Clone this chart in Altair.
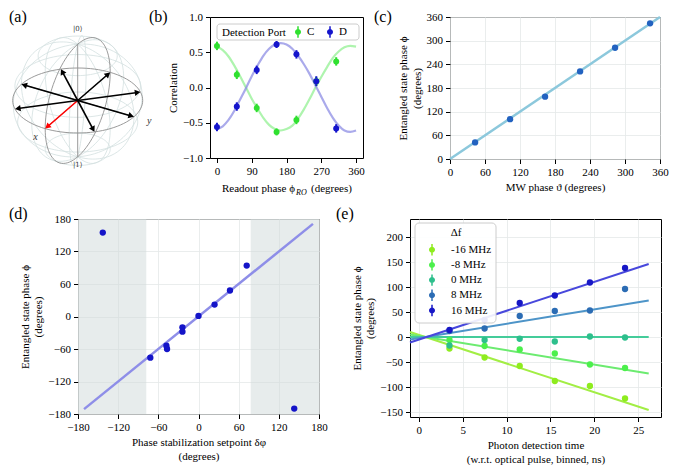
import altair as alt
import numpy as np
import pandas as pd

SERIF = "'Liberation Serif', 'Times New Roman', serif"

# ===================== DATA =====================
# (a) Bloch sphere: azimuths of the eight equatorial state vectors (first one red)
state_azimuth_deg = [0, 45, 90, 135, 180, 225, 270, 315]
state_is_red = [True, False, False, False, False, False, False, False]
wire_meridians_deg = [0, 37.5, 75, 112.5, 150, 180, -142.5, -105, -67.5, -30]
wire_colatitudes_deg = [37.5, 75, 112.5, 150]
view_azim_deg = -60
view_elev_deg = 30

# (b) correlation vs readout phase
ports = ["C", "D"]
port_colors = ["#2fe02f", "#1414cc"]
port_fit_colors = ["#8cf08c", "#8686e2"]
ro_phase = [0, 51.4, 102.9, 154.3, 205.7, 257.1, 308.6]
corr_C = [0.59, 0.18, -0.29, -0.63, -0.46, 0.09, 0.37]
corr_D = [-0.56, -0.27, 0.25, 0.61, 0.47, 0.09, -0.58]
corr_C_err = [0.06, 0.06, 0.06, 0.05, 0.06, 0.06, 0.06]
corr_D_err = [0.06, 0.06, 0.06, 0.05, 0.06, 0.07, 0.06]
fit_phase = [0, 15, 30, 45, 60, 75, 90, 105, 120, 135, 150, 165, 180,
             195, 210, 225, 240, 255, 270, 285, 300, 315, 330, 345, 360]
fit_C = [0.58, 0.53, 0.44, 0.31, 0.16, 0.00, -0.16, -0.30, -0.43, -0.53, -0.59, -0.61, -0.59,
         -0.54, -0.44, -0.31, -0.16, 0.00, 0.15, 0.29, 0.42, 0.51, 0.57, 0.59, 0.58]
fit_D = [-0.59, -0.55, -0.46, -0.33, -0.17, -0.01, 0.16, 0.31, 0.45, 0.55, 0.61, 0.63, 0.61,
         0.55, 0.45, 0.33, 0.19, 0.03, -0.13, -0.29, -0.43, -0.54, -0.61, -0.63, -0.61]

# (c) entangled phase vs MW phase
mw_phase = [43, 103, 163, 223, 283, 343]
mw_ent_phase = [42, 101, 158, 222, 282, 344]
mw_fit_x = [0, 360]
mw_fit_y = [0, 360]

# (d) entangled phase vs stabilization setpoint
setpoint = [-143, -72, -48, -47, -24, -24, 0, 24, 47, 72, 143]
setpoint_phase = [155, -76, -54, -60, -20, -28, 1, 22, 48, 94, -170]
setpoint_fit_x = [-171, 171]
setpoint_fit_y = [-171, 171]
shade_lo = [-180, 78]
shade_hi = [-78, 180]

# (e) entangled phase vs photon detection time
det_time = [3.5, 7.5, 11.5, 15.5, 19.5, 23.5]
detuning = ["-16 MHz", "-8 MHz", "0 MHz", "8 MHz", "16 MHz"]
phase_m16 = [-23, -41, -58, -88, -98, -123]
phase_m8 = [-6, -18, -25, -33, -55, -62]
phase_0 = [-17, -6, -3.5, -9, 1, -1]
phase_p8 = [12, 17, 42, 52, 53, 96]
phase_p16 = [14, 34, 68, 83, 109, 138]
fit_time = [-1, 26.2]
fit_m16 = [10, -146]
fit_m8 = [5, -73]
fit_0 = [0, 0]
fit_p8 = [-5, 73]
fit_p16 = [-11, 146]
point_colors = ["#8eec1e", "#4cf04c", "#2dbf8c", "#2b6cb4", "#1717c6"]
line_colors = ["#a2ee44", "#6ceb70", "#44cc9a", "#4d94c8", "#4848dc"]

# ===================== HELPERS =====================
SYM = ("M -1 0 A 1 1 0 1 1 1 0 A 1 1 0 1 1 -1 0 Z "
       "M -0.25 -1.9 L 0.25 -1.9 L 0.25 1.9 L -0.25 1.9 Z")
ONE = pd.DataFrame({"t": ["x"]})
IND = dict(x="independent", y="independent", color="independent", stroke="independent")


def panel_label(txt, x, y):
    return alt.Chart(pd.DataFrame({"t": [txt]})).mark_text(
        align="left", baseline="top", font=SERIF, fontSize=16, color="black"
    ).encode(text="t:N", x=alt.value(x), y=alt.value(y))


def spacer(w, h):
    return alt.Chart(ONE).mark_point(opacity=0, size=1).encode(
        x=alt.value(w / 2), y=alt.value(h / 2)
    ).properties(width=w, height=h, view=alt.ViewBackground(stroke="transparent"))


def axis(title, values, fmt="d", grid=False):
    return alt.Axis(title=title, values=values, format=fmt, grid=grid)


def legend_box(x, y, w, h, radius):
    return alt.Chart(ONE).mark_rect(fill="white", fillOpacity=0.9, stroke="#cccccc",
                                    strokeWidth=1, cornerRadius=radius).encode(
        x=alt.value(x), x2=alt.value(x + w), y=alt.value(y), y2=alt.value(y + h))


def legend_entries(labels, colors, xs, ys, label_dx):
    df = pd.DataFrame({"lab": labels, "col": colors, "px": xs, "py": ys,
                       "lx": [v + label_dx for v in xs]})
    sym = alt.Chart(df).mark_point(shape=SYM, filled=True, size=36, opacity=1, strokeWidth=0).encode(
        x=alt.X("px:Q", scale=None), y=alt.Y("py:Q", scale=None), color=alt.Color("col:N", scale=None))
    txt = alt.Chart(df).mark_text(align="left", baseline="middle", font=SERIF, fontSize=11,
                                  color="black").encode(
        x=alt.X("lx:Q", scale=None), y=alt.Y("py:Q", scale=None), text="lab:N")
    return [sym, txt]


def text_at(s, x, y, align="left", baseline="middle", size=11, style="normal"):
    return alt.Chart(ONE).mark_text(text=s, align=align, baseline=baseline, font=SERIF,
                                    fontSize=size, fontStyle=style, color="black").encode(
        x=alt.value(x), y=alt.value(y))


# ===================== (a) BLOCH SPHERE =====================
az = np.radians(view_azim_deg)
el = np.radians(view_elev_deg)


def project(X, Y, Z):
    X = np.asarray(X, float)
    Y = np.asarray(Y, float)
    Z = np.asarray(Z, float)
    right = -np.sin(az) * X + np.cos(az) * Y
    up = -np.sin(el) * np.cos(az) * X - np.sin(el) * np.sin(az) * Y + np.cos(el) * Z
    return right, up


wire_rows = []
tt = np.radians(np.linspace(0, 180, 49))
for i, u in enumerate(np.radians(wire_meridians_deg)):
    r, up = project(np.cos(u) * np.sin(tt), np.sin(u) * np.sin(tt), np.cos(tt))
    for k in range(len(tt)):
        wire_rows.append({"id": "m%d" % i, "k": k, "x": r[k], "y": up[k]})
ss = np.radians(np.linspace(-180, 180, 97))
for j, v in enumerate(np.radians(wire_colatitudes_deg)):
    r, up = project(np.cos(ss) * np.sin(v), np.sin(ss) * np.sin(v), np.full_like(ss, np.cos(v)))
    for k in range(len(ss)):
        wire_rows.append({"id": "l%d" % j, "k": k, "x": r[k], "y": up[k]})
wire_df = pd.DataFrame(wire_rows)

frame_rows = []
r, up = project(np.cos(ss), np.sin(ss), np.zeros_like(ss))
for k in range(len(ss)):
    frame_rows.append({"id": "eq", "k": k, "x": r[k], "y": up[k]})
r, up = project(np.zeros_like(ss), np.cos(ss), np.sin(ss))
for k in range(len(ss)):
    frame_rows.append({"id": "mer", "k": k, "x": r[k], "y": up[k]})
for name, (P, Q) in {"ax": ([-1, 1], [0, 0]), "ay": ([0, 0], [-1, 1])}.items():
    r, up = project(P, Q, [0, 0])
    for k in range(2):
        frame_rows.append({"id": name, "k": k, "x": r[k], "y": up[k]})
r, up = project([0, 0], [0, 0], [-1, 1])
for k in range(2):
    frame_rows.append({"id": "az", "k": k, "x": r[k], "y": up[k]})
frame_df = pd.DataFrame(frame_rows)

PX = 65.0  # pixels per sphere radius
arrow_rows = []
for phi_deg, red in zip(state_azimuth_deg, state_is_red):
    phi = np.radians(phi_deg)
    bx, by = np.cos(phi), np.sin(phi)
    tr, tu = project(by, -bx, 0.0)
    tr, tu = float(tr), float(tu)
    L = np.hypot(tr, tu)
    dr, du = tr / L, tu / L
    h = 2.9 / PX
    cr, cu = tr - dr * h, tu - du * h
    ang = float(np.degrees(np.arctan2(dr, du)) % 360)
    arrow_rows.append({"x0": 0.0, "y0": 0.0, "x1": cr, "y1": cu, "ang": ang,
                       "col": "red" if red else "black"})
arrow_df = pd.DataFrame(arrow_rows)

kr, ku = project([0, 0], [0, 0], [1.27, -1.15])
ket_df = pd.DataFrame({"x": kr, "y": ku, "t": ["|0⟩", "|1⟩"]})
lr, lu = project([0, 1.27], [-1.3, 0], [0, 0])
xy_df = pd.DataFrame({"x": lr, "y": lu, "t": ["x", "y"]})

ROWH = 187
WA, HA = 114, ROWH
cx, cy = 68.7, 83.5
xa = dict(scale=alt.Scale(domain=[-cx / PX, (WA - cx) / PX], nice=False, zero=False), axis=None)
ya = dict(scale=alt.Scale(domain=[-(HA - cy) / PX, cy / PX], nice=False, zero=False), axis=None)

a_wire = alt.Chart(wire_df).mark_line(color="#d3dfdf", strokeWidth=0.8).encode(
    x=alt.X("x:Q", **xa), y=alt.Y("y:Q", **ya), detail="id:N", order="k:Q")
a_frame = alt.Chart(frame_df).mark_line(color="#8f8f8f", strokeWidth=0.9).encode(
    x=alt.X("x:Q", **xa), y=alt.Y("y:Q", **ya), detail="id:N", order="k:Q")
a_shaft = alt.Chart(arrow_df).mark_rule(strokeWidth=1.6).encode(
    x=alt.X("x0:Q", **xa), y=alt.Y("y0:Q", **ya), x2="x1:Q", y2="y1:Q",
    color=alt.Color("col:N", scale=None))
a_head = alt.Chart(arrow_df).mark_point(shape="triangle-up", filled=True, size=42, opacity=1).encode(
    x=alt.X("x1:Q", **xa), y=alt.Y("y1:Q", **ya), angle=alt.Angle("ang:Q", scale=None),
    color=alt.Color("col:N", scale=None))
a_ket = alt.Chart(ket_df).mark_text(font="DejaVu Serif", fontSize=7, color="#333").encode(
    x=alt.X("x:Q", **xa), y=alt.Y("y:Q", **ya), text="t:N")
a_xy = alt.Chart(xy_df).mark_text(font=SERIF, fontSize=10, fontStyle="italic", color="#333").encode(
    x=alt.X("x:Q", **xa), y=alt.Y("y:Q", **ya), text="t:N")

panel_a = alt.layer(a_wire, a_frame, a_shaft, a_head, a_ket, a_xy, panel_label("(a)", 0, -8)).properties(
    width=WA, height=HA, view=alt.ViewBackground(stroke="transparent"))

# ===================== (b) =====================
b_pts = pd.DataFrame({
    "phase": ro_phase + ro_phase,
    "corr": corr_C + corr_D,
    "lo": [v - e for v, e in zip(corr_C, corr_C_err)] + [v - e for v, e in zip(corr_D, corr_D_err)],
    "hi": [v + e for v, e in zip(corr_C, corr_C_err)] + [v + e for v, e in zip(corr_D, corr_D_err)],
    "port": ["C"] * len(ro_phase) + ["D"] * len(ro_phase),
})
b_fit = pd.DataFrame({"phase": fit_phase + fit_phase, "corr": fit_C + fit_D,
                      "port": ["C"] * len(fit_phase) + ["D"] * len(fit_phase)})
bx_ax = axis(None, [0, 90, 180, 270, 360])
by_ax = axis("Correlation", [-1.0, -0.5, 0.0, 0.5, 1.0], fmt=".1f")
bX = lambda f: alt.X(f, scale=alt.Scale(domain=[-18, 378], nice=False, zero=False), axis=bx_ax)
bY = lambda f: alt.Y(f, scale=alt.Scale(domain=[-1, 1], nice=False, zero=False), axis=by_ax)

b_lines = alt.Chart(b_fit).mark_line(strokeWidth=2.2, opacity=0.7, interpolate="monotone").encode(
    x=bX("phase:Q"), y=bY("corr:Q"),
    stroke=alt.Stroke("port:N", scale=alt.Scale(domain=ports, range=port_fit_colors), legend=None))
b_err = alt.Chart(b_pts).mark_rule(strokeWidth=2).encode(
    x=bX("phase:Q"), y=bY("lo:Q"), y2="hi:Q",
    color=alt.Color("port:N", scale=alt.Scale(domain=ports, range=port_colors), legend=None))
b_points = alt.Chart(b_pts).mark_circle(size=36, opacity=1).encode(
    x=bX("phase:Q"), y=bY("corr:Q"),
    color=alt.Color("port:N", scale=alt.Scale(domain=ports, range=port_colors), legend=None))
b_leg = [legend_box(7, 7, 142, 16, 3), text_at("Detection Port", 12, 15.5)] + \
    legend_entries(ports, port_colors, [88, 120], [15, 15], 9)
b_title = [text_at("Readout phase ϕ", 85, 175, align="right", baseline="alphabetic"),
           text_at("RO", 86, 177.5, baseline="alphabetic", size=8, style="italic"),
           text_at("(degrees)", 101, 175, baseline="alphabetic")]
panel_b = alt.layer(b_lines, b_err, b_points, *b_leg, *b_title,
                    panel_label("(b)", -61, -8)).properties(width=153, height=141)

# ===================== (c) =====================
c_pts = pd.DataFrame({"mw": mw_phase, "ph": mw_ent_phase})
c_fit = pd.DataFrame({"mw": mw_fit_x, "ph": mw_fit_y})
cx_ax = axis("MW phase ϑ (degrees)", list(range(0, 361, 60)), grid=True)
cy_ax = axis(["Entangled state phase ϕ", "(degrees)"], list(range(0, 361, 60)), grid=True)
cX = alt.X("mw:Q", scale=alt.Scale(domain=[0, 360], nice=False, zero=False), axis=cx_ax)
cY = alt.Y("ph:Q", scale=alt.Scale(domain=[0, 360], nice=False, zero=False), axis=cy_ax)
c_line = alt.Chart(c_fit).mark_line(color="#8cc8dc", strokeWidth=2.5).encode(x=cX, y=cY)
c_point = alt.Chart(c_pts).mark_circle(size=40, opacity=1, color="#2262c0").encode(x=cX, y=cY)
panel_c = alt.layer(c_line, c_point, panel_label("(c)", -76, -8)).properties(width=210, height=142)

# ===================== (d) =====================
d_pts = pd.DataFrame({"sp": setpoint, "ph": setpoint_phase})
d_fit = pd.DataFrame({"sp": setpoint_fit_x, "ph": setpoint_fit_y})
d_shade = pd.DataFrame({"lo": shade_lo, "hi": shade_hi})
ticks180 = list(range(-180, 181, 60))
dx_ax = axis(["Phase stabilization setpoint δφ", "(degrees)"], ticks180, grid=True)
dy_ax = axis(["Entangled state phase ϕ", "(degrees)"], ticks180, grid=True)
dsx = alt.Scale(domain=[-180, 180], nice=False, zero=False)
dsy = alt.Scale(domain=[-180, 180], nice=False, zero=False)
d_rect = alt.Chart(d_shade).mark_rect(color="#cfdada", opacity=0.5).encode(
    x=alt.X("lo:Q", scale=dsx, axis=dx_ax), x2="hi:Q",
    y=alt.Y(datum=-180, scale=dsy, axis=dy_ax), y2=alt.datum(180))
d_line = alt.Chart(d_fit).mark_line(color="#8e8ee8", strokeWidth=2.5).encode(
    x=alt.X("sp:Q", scale=dsx, axis=dx_ax), y=alt.Y("ph:Q", scale=dsy, axis=dy_ax))
d_point = alt.Chart(d_pts).mark_circle(size=40, opacity=1, color="#1414c8").encode(
    x=alt.X("sp:Q", scale=dsx, axis=dx_ax), y=alt.Y("ph:Q", scale=dsy, axis=dy_ax))
panel_d = alt.layer(d_rect, d_line, d_point, panel_label("(d)", -69, -13)).properties(width=241, height=195)

# ===================== (e) =====================
series_pts = [phase_m16, phase_m8, phase_0, phase_p8, phase_p16]
series_fit = [fit_m16, fit_m8, fit_0, fit_p8, fit_p16]
e_pts = pd.DataFrame([{"t": t, "ph": v, "df": lab}
                      for lab, vals in zip(detuning, series_pts) for t, v in zip(det_time, vals)])
e_fit = pd.DataFrame([{"t": t, "ph": v, "df": lab}
                      for lab, vals in zip(detuning, series_fit) for t, v in zip(fit_time, vals)])
ex_ax = axis(["Photon detection time", "(w.r.t. optical pulse, binned, ns)"], [0, 5, 10, 15, 20, 25], grid=True)
ey_ax = axis(["Entangled state phase ϕ", "(degrees)"], [-150, -100, -50, 0, 50, 100, 150, 200], grid=True)
eX = alt.X("t:Q", scale=alt.Scale(domain=[-1, 27.6], nice=False, zero=False), axis=ex_ax)
eY = alt.Y("ph:Q", scale=alt.Scale(domain=[-160, 236], nice=False, zero=False), axis=ey_ax)
e_line = alt.Chart(e_fit).mark_line(strokeWidth=2).encode(
    x=eX, y=eY, stroke=alt.Stroke("df:N", scale=alt.Scale(domain=detuning, range=line_colors), legend=None))
e_point = alt.Chart(e_pts).mark_circle(size=40, opacity=1).encode(
    x=eX, y=eY, color=alt.Color("df:N", scale=alt.Scale(domain=detuning, range=point_colors), legend=None))
e_leg = [legend_box(5, 4, 81, 100, 4), text_at("Δf", 46, 13.5, align="center")] + \
    legend_entries(detuning, point_colors, [22] * 5, [30.7, 45.9, 61.1, 76.3, 91.5], 19)
panel_e = alt.layer(e_line, e_point, *e_leg, panel_label("(e)", -74, -13)).properties(width=251, height=198)

# ===================== LAYOUT =====================
row1 = alt.hconcat(panel_a, spacer(87, ROWH), panel_b, spacer(87, ROWH), panel_c,
                   spacing=0, bounds="flush").resolve_scale(**IND)
row2 = alt.hconcat(spacer(69, 20), panel_d, spacer(91, 20), panel_e,
                   spacing=0, bounds="flush").resolve_scale(**IND)
chart = alt.vconcat(row1, row2, spacing=0, padding=0).resolve_scale(**IND).configure_view(
    stroke="black", strokeWidth=1
).configure_axis(
    labelFont=SERIF, labelFontSize=11, labelColor="black", labelPadding=3,
    titleFont=SERIF, titleFontSize=11, titleColor="black", titleFontWeight="normal",
    titleLineHeight=13.5, titlePadding=4,
    tickColor="black", tickSize=4.5, tickWidth=1, domain=False,
    labelFlush=False, labelOverlap=False, gridColor="#e4e9e9", gridWidth=0.8,
)

chart.save("out.html", embed_options={"renderer": "svg", "actions": False})
